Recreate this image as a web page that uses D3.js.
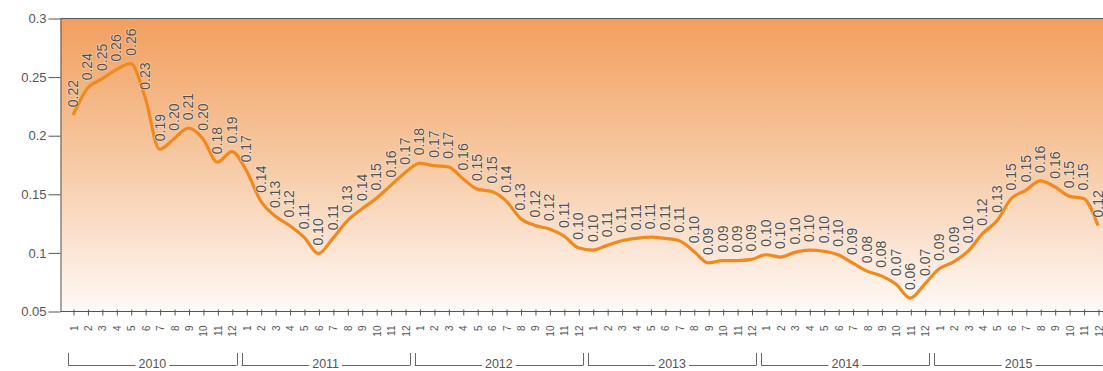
<!DOCTYPE html>
<html>
<head>
<meta charset="utf-8">
<script src="https://cdn.jsdelivr.net/npm/d3@7"></script>
<style>
  html, body { margin: 0; padding: 0; background: #ffffff; }
  svg { display: block; font-family: "Liberation Sans", Arial, sans-serif; }
</style>
</head>
<body>
<svg id="chart" width="1103" height="371"></svg>
<script>
// Monthly series, 2010–2015
const years = ["2010", "2011", "2012", "2013", "2014", "2015"];
const months = ["1", "2", "3", "4", "5", "6", "7", "8", "9", "10", "11", "12"];
const yTicks = [0.05, 0.1, 0.15, 0.2, 0.25, 0.3];

const v2010 = [0.217, 0.240, 0.248, 0.256, 0.261, 0.232, 0.188, 0.197, 0.206, 0.197, 0.177, 0.186];
const v2011 = [0.170, 0.144, 0.131, 0.123, 0.113, 0.099, 0.112, 0.127, 0.137, 0.146, 0.157, 0.168];
const v2012 = [0.176, 0.174, 0.173, 0.163, 0.154, 0.152, 0.144, 0.129, 0.123, 0.120, 0.114, 0.104];
const v2013 = [0.102, 0.106, 0.110, 0.112, 0.113, 0.112, 0.110, 0.101, 0.091, 0.093, 0.093, 0.094];
const v2014 = [0.098, 0.096, 0.100, 0.102, 0.101, 0.098, 0.091, 0.084, 0.080, 0.073, 0.061, 0.073];
const v2015 = [0.086, 0.092, 0.101, 0.116, 0.127, 0.146, 0.153, 0.161, 0.156, 0.148, 0.146, 0.123];

const series = [v2010, v2011, v2012, v2013, v2014, v2015];
const data = [];
series.forEach((arr, yi) => arr.forEach((v, mi) => data.push({ i: yi * 12 + mi, year: years[yi], month: months[mi], v })));

const W = 1103, H = 371;
const plotLeft = 60.5, plotTop = 18, plotBottom = 311;

const svg = d3.select("#chart");

const x = d3.scalePoint().domain(d3.range(data.length)).range([73, 1098]);
const step = x.step();
const y = d3.scaleLinear().domain([0.05, 0.3]).range([plotBottom, plotTop]);

// Background gradient
const defs = svg.append("defs");
const grad = defs.append("linearGradient").attr("id", "bg").attr("x1", 0).attr("y1", 0).attr("x2", 0).attr("y2", 1);
grad.append("stop").attr("offset", "0%").attr("stop-color", "#f29f5e");
grad.append("stop").attr("offset", "50%").attr("stop-color", "#f7caa5");
grad.append("stop").attr("offset", "78%").attr("stop-color", "#fbe4d3");
grad.append("stop").attr("offset", "100%").attr("stop-color", "#fef9f6");

svg.append("rect")
  .attr("x", plotLeft).attr("y", plotTop)
  .attr("width", W - plotLeft).attr("height", plotBottom - plotTop)
  .attr("fill", "url(#bg)");

// Frame lines
const axisColor = "#555";
svg.append("line").attr("x1", plotLeft).attr("x2", W).attr("y1", plotTop + 0.5).attr("y2", plotTop + 0.5)
  .attr("stroke", axisColor).attr("stroke-width", 1);
svg.append("line").attr("x1", plotLeft).attr("x2", W).attr("y1", plotBottom + 0.5).attr("y2", plotBottom + 0.5)
  .attr("stroke", axisColor).attr("stroke-width", 1);

// Y axis
const yAxis = svg.append("g").attr("transform", `translate(${plotLeft},0.5)`)
  .call(d3.axisLeft(y).tickValues(yTicks).tickSize(12).tickSizeOuter(0).tickPadding(2)
    .tickFormat(d => String(+d.toFixed(2))));
yAxis.select(".domain").attr("stroke", axisColor);
yAxis.selectAll(".tick line").attr("stroke", axisColor);
yAxis.selectAll(".tick text").attr("fill", "#555").attr("font-size", 13)
  .attr("font-family", "'Liberation Sans', Arial, sans-serif");

// X axis (months)
const xAxis = svg.append("g").attr("transform", `translate(0.5,${plotBottom + 0.5})`)
  .call(d3.axisBottom(x).tickSize(4).tickSizeOuter(0).tickFormat(i => months[i % 12]));
xAxis.select(".domain").remove();
xAxis.selectAll(".tick line").attr("stroke", axisColor).attr("y1", -2);
xAxis.selectAll(".tick text")
  .attr("fill", "#555").attr("font-size", 10)
  .attr("font-family", "'Liberation Sans', Arial, sans-serif")
  .attr("text-anchor", "end")
  .attr("transform", "translate(0,14) rotate(-90)")
  .attr("x", 0).attr("y", 0).attr("dy", "0.35em");

// Year brackets
const yearG = svg.append("g").attr("stroke", "#666").attr("stroke-width", 1);
const lineY = 365.5;
years.forEach((yr, k) => {
  const left = x(k * 12) - step / 2 + 2.5;
  const right = x(k * 12 + 11) + step / 2 - 2.5;
  const cx = (left + right) / 2;
  const t = svg.append("text").attr("x", cx).attr("y", 368).attr("text-anchor", "middle")
    .attr("font-size", 12.5).attr("fill", "#555").text(yr);
  const w = t.node().getComputedTextLength();
  yearG.append("line").attr("x1", Math.round(left) + 0.5).attr("x2", Math.round(left) + 0.5)
    .attr("y1", 353).attr("y2", lineY);
  yearG.append("line").attr("x1", Math.round(right) + 0.5).attr("x2", Math.round(right) + 0.5)
    .attr("y1", 353).attr("y2", lineY);
  yearG.append("line").attr("x1", left).attr("x2", cx - w / 2 - 3).attr("y1", lineY).attr("y2", lineY);
  yearG.append("line").attr("x1", cx + w / 2 + 3).attr("x2", Math.min(right, W)).attr("y1", lineY).attr("y2", lineY);
});

// Series line
const line = d3.line().x(d => x(d.i)).y(d => y(d.v)).curve(d3.curveMonotoneX);
svg.append("path").datum(data)
  .attr("d", line)
  .attr("fill", "none")
  .attr("stroke", "#f08a1e")
  .attr("stroke-width", 3.2)
  .attr("stroke-linejoin", "round");

// Value labels, rotated above each point, with a faint light halo
const fmt = d3.format(".2f");
svg.append("g").selectAll("text").data(data).join("text")
  .attr("transform", d => `translate(${x(d.i)},${y(d.v) - 8}) rotate(-90)`)
  .attr("text-anchor", "start")
  .attr("dy", "0.35em")
  .attr("font-size", 14)
  .attr("fill", "#505050")
  .attr("stroke", "rgba(255,255,255,0.45)")
  .attr("stroke-width", 1.5)
  .attr("paint-order", "stroke")
  .text(d => fmt(d.v));
</script>
</body>
</html>
